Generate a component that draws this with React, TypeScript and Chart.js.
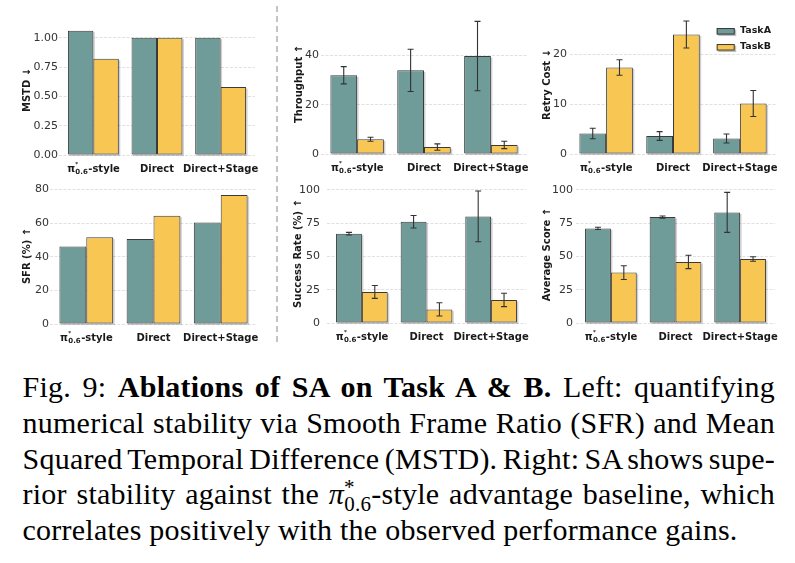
import React, { useEffect, useRef } from "react";
import { Chart, registerables } from "chart.js";

Chart.register(...registerables);

// ---------------- data ----------------
const CATEGORIES = ["π*0.6-style", "Direct", "Direct+Stage"];
const SERIES = ["TaskA", "TaskB"];

const MSTD_A = [1.06, 1.0, 1.0];
const MSTD_B = [0.82, 1.0, 0.58];

const THROUGHPUT_A = [32.0, 34.0, 39.8];
const THROUGHPUT_A_ERR = [3.5, 8.6, 14.1];
const THROUGHPUT_B = [6.0, 2.8, 3.7];
const THROUGHPUT_B_ERR = [0.8, 1.3, 1.5];

const RETRY_A = [4.1, 3.6, 3.1];
const RETRY_A_ERR = [1.05, 0.87, 0.9];
const RETRY_B = [17.3, 23.9, 10.1];
const RETRY_B_ERR = [1.55, 2.7, 2.6];

const SFR_A = [46.1, 50.6, 60.4];
const SFR_B = [51.6, 64.5, 76.8];

const SUCCESS_A = [67.0, 76.0, 80.0];
const SUCCESS_A_ERR = [1.0, 4.7, 19.0];
const SUCCESS_B = [23.3, 10.2, 17.3];
const SUCCESS_B_ERR = [4.8, 5.0, 5.0];

const SCORE_A = [71.0, 79.5, 83.0];
const SCORE_A_ERR = [0.8, 0.8, 15.0];
const SCORE_B = [37.8, 45.8, 48.0];
const SCORE_B_ERR = [5.2, 5.0, 1.7];

const MSTD_TICKS = [0, 0.25, 0.5, 0.75, 1.0];
const MSTD_TICK_LABELS = ["0.00", "0.25", "0.50", "0.75", "1.00"];
const THROUGHPUT_TICKS = [0, 20, 40];
const RETRY_TICKS = [0, 10, 20];
const SFR_TICKS = [0, 20, 40, 60, 80];
const PCT_TICKS = [0, 25, 50, 75, 100];

// ---------------- styles ----------------
const TEAL = "#6F9C99";
const YELLOW = "#F8C652";
const EDGE = "#3a3a3a";
const FONT = "'DejaVu Sans', sans-serif";

type Rect = { x0: number; y0: number; x1: number; y1: number };
type Plot = { L: number; R: number; T: number; B: number };
type Panel = {
  id: string;
  title: string;
  a: number[];
  b: number[];
  aErr?: number[];
  bErr?: number[];
  ticks: number[];
  tickLabels?: string[];
  yMax: number;
  canvas: Rect;
  plot: Plot;
  tickPad: number;
  titleX: number;
  legend?: boolean;
};

const PANELS: Panel[] = [
  {
    id: "mstd", title: "MSTD ↓", a: MSTD_A, b: MSTD_B,
    ticks: MSTD_TICKS, tickLabels: MSTD_TICK_LABELS, yMax: 1.108,
    canvas: { x0: 0, y0: 0, x1: 262, y1: 180 }, plot: { L: 59, R: 255, T: 25, B: 155 },
    tickPad: 1, titleX: 27.5,
  },
  {
    id: "thr", title: "Throughput ↑", a: THROUGHPUT_A, b: THROUGHPUT_B,
    aErr: THROUGHPUT_A_ERR, bErr: THROUGHPUT_B_ERR, ticks: THROUGHPUT_TICKS, yMax: 56.9,
    canvas: { x0: 282, y0: 0, x1: 529, y1: 180 }, plot: { L: 321, R: 527, T: 14, B: 154 },
    tickPad: 2, titleX: 299,
  },
  {
    id: "retry", title: "Retry Cost ↓", a: RETRY_A, b: RETRY_B,
    aErr: RETRY_A_ERR, bErr: RETRY_B_ERR, ticks: RETRY_TICKS, yMax: 27.8,
    canvas: { x0: 530, y0: 0, x1: 795, y1: 180 }, plot: { L: 570, R: 776, T: 15, B: 154 },
    tickPad: 3, titleX: 547.5, legend: true,
  },
  {
    id: "sfr", title: "SFR (%) ↑", a: SFR_A, b: SFR_B,
    ticks: SFR_TICKS, yMax: 80.95,
    canvas: { x0: 0, y0: 170, x1: 262, y1: 350 }, plot: { L: 50, R: 257, T: 188, B: 324 },
    tickPad: 1, titleX: 27,
  },
  {
    id: "succ", title: "Success Rate (%) ↑", a: SUCCESS_A, b: SUCCESS_B,
    aErr: SUCCESS_A_ERR, bErr: SUCCESS_B_ERR, ticks: PCT_TICKS, yMax: 104.3,
    canvas: { x0: 282, y0: 170, x1: 530, y1: 350 }, plot: { L: 327, R: 526, T: 184, B: 323 },
    tickPad: 7, titleX: 298,
  },
  {
    id: "score", title: "Average Score ↑", a: SCORE_A, b: SCORE_B,
    aErr: SCORE_A_ERR, bErr: SCORE_B_ERR, ticks: PCT_TICKS, yMax: 102.8,
    canvas: { x0: 530, y0: 170, x1: 795, y1: 350 }, plot: { L: 576, R: 775, T: 186, B: 323 },
    tickPad: 3, titleX: 547.5,
  },
];

// ---------------- plugins ----------------
const barShadow = {
  id: "barShadow",
  beforeDatasetsDraw(chart: any) {
    const { ctx } = chart;
    ctx.save();
    ctx.fillStyle = "rgba(0,0,0,0.18)";
    chart.data.datasets.forEach((_: any, di: number) => {
      const meta = chart.getDatasetMeta(di);
      meta.data.forEach((bar: any) => {
        const w = bar.width;
        ctx.fillRect(bar.x - w / 2 + 1.5, bar.y + 1.5, w, bar.base - bar.y);
      });
    });
    ctx.restore();
  },
};

const errorBars = {
  id: "errorBars",
  afterDatasetsDraw(chart: any) {
    const { ctx } = chart;
    const ys = chart.scales.y;
    chart.data.datasets.forEach((ds: any, di: number) => {
      const errs: number[] | undefined = ds.errors;
      if (!errs) return;
      const meta = chart.getDatasetMeta(di);
      meta.data.forEach((bar: any, i: number) => {
        const v = ds.data[i].y;
        const e = errs[i];
        const yt = ys.getPixelForValue(v + e);
        const yb = ys.getPixelForValue(v - e);
        const x = bar.x;
        ctx.save();
        ctx.strokeStyle = "#333";
        ctx.lineWidth = 1.1;
        ctx.beginPath();
        ctx.moveTo(x, yt);
        ctx.lineTo(x, yb);
        ctx.moveTo(x - 3, yt);
        ctx.lineTo(x + 3, yt);
        ctx.moveTo(x - 3, yb);
        ctx.lineTo(x + 3, yb);
        ctx.stroke();
        ctx.restore();
      });
    });
  },
};

const xLabels = {
  id: "xLabels",
  afterDraw(chart: any) {
    const { ctx, chartArea } = chart;
    const xs = chart.scales.x;
    const cats: string[] = chart.data.labels;
    ctx.save();
    ctx.fillStyle = "#1a1a1a";
    ctx.textBaseline = "alphabetic";
    ctx.textAlign = "left";
    const baseY = chartArea.bottom + 13 + 3.7;
    cats.forEach((lab, i) => {
      const cx = xs.getPixelForValue(i);
      const m = /^(π)\*([\d.]+)(.*)$/.exec(lab);
      if (m) {
        const main = "bold 10px " + FONT;
        const sup = "bold 5.5px " + FONT;
        const sub = "bold 7px " + FONT;
        ctx.font = main;
        const wPi = ctx.measureText(m[1]).width;
        const wRest = ctx.measureText(m[3]).width;
        ctx.font = sup;
        const wSup = ctx.measureText("*").width;
        ctx.font = sub;
        const wSub = ctx.measureText(m[2]).width;
        const wScript = Math.max(wSup, wSub) + 0.5;
        const total = wPi + wScript + wRest;
        let x = cx - total / 2;
        ctx.font = main;
        ctx.fillText(m[1], x, baseY);
        x += wPi + 0.3;
        ctx.font = sup;
        ctx.fillText("*", x, baseY - 5.5);
        ctx.font = sub;
        ctx.fillText(m[2], x, baseY + 2.5);
        x += wScript;
        ctx.font = main;
        ctx.fillText(m[3], x, baseY);
      } else {
        ctx.font = "bold 10px " + FONT;
        const w = ctx.measureText(lab).width;
        ctx.fillText(lab, cx - w / 2, baseY);
      }
    });
    ctx.restore();
  },
};

function legendPlugin(show: boolean) {
  return {
    id: "boxLegend",
    afterDraw(chart: any) {
      if (!show) return;
      const { ctx, chartArea } = chart;
      ctx.save();
      chart.data.datasets.forEach((ds: any, i: number) => {
        const cy = chartArea.top + 16.3 + 16 * i;
        const bx = chartArea.right - 59.3;
        const bw = 18;
        const bh = 6.5;
        ctx.fillStyle = "rgba(0,0,0,0.25)";
        ctx.fillRect(bx + 1.5, cy - bh / 2 + 1.5, bw, bh);
        ctx.fillStyle = ds.backgroundColor;
        ctx.fillRect(bx, cy - bh / 2, bw, bh);
        ctx.strokeStyle = EDGE;
        ctx.lineWidth = 1;
        ctx.strokeRect(bx + 0.5, cy - bh / 2 + 0.5, bw - 1, bh - 1);
        ctx.fillStyle = "#1a1a1a";
        ctx.font = "bold 9.5px " + FONT;
        ctx.textBaseline = "middle";
        ctx.textAlign = "left";
        ctx.fillText(ds.label, chartArea.right - 36, cy - 0.5);
      });
      ctx.restore();
    },
  };
}

function makeConfig(p: Panel): any {
  const AW = p.plot.L - p.canvas.x0;
  const PR = p.canvas.x1 - p.plot.R;
  const PT = p.plot.T - p.canvas.y0;
  const XH = p.canvas.y1 - p.plot.B;
  const mk = (label: string, vals: number[], errs: number[] | undefined, color: string) => ({
    label,
    data: vals.map((v, i) => ({ x: i, y: v })),
    errors: errs,
    backgroundColor: color,
    borderColor: EDGE,
    borderWidth: 1,
    borderSkipped: false,
    categoryPercentage: 0.8,
    barPercentage: 1.0,
  });
  return {
    type: "bar",
    data: {
      labels: CATEGORIES,
      datasets: [mk(SERIES[0], p.a, p.aErr, TEAL), mk(SERIES[1], p.b, p.bErr, YELLOW)],
    },
    options: {
      responsive: false,
      animation: false,
      devicePixelRatio: 1,
      layout: { padding: { top: PT, right: PR, bottom: 0, left: 0 } },
      plugins: { legend: { display: false }, tooltip: { enabled: false }, title: { display: false } },
      scales: {
        x: {
          type: "linear",
          min: -0.54,
          max: 2.54,
          offset: false,
          grid: { display: false },
          border: { display: false },
          ticks: { display: false },
          afterBuildTicks: (ax: any) => {
            ax.ticks = CATEGORIES.map((_, i) => ({ value: i }));
          },
          afterFit: (s: any) => {
            s.height = XH;
          },
        },
        y: {
          min: 0,
          max: p.yMax,
          afterBuildTicks: (ax: any) => {
            ax.ticks = p.ticks.map((v) => ({ value: v }));
          },
          ticks: {
            padding: p.tickPad,
            color: "#333",
            font: { family: FONT, size: 11 },
            callback: (v: number, i: number) => (p.tickLabels ? p.tickLabels[i] : String(v)),
          },
          grid: { color: "#dedede", lineWidth: 0.9, drawTicks: false },
          border: { display: false, dash: [3, 1.5] },
          title: {
            display: true,
            text: p.title,
            color: "#1a1a1a",
            font: { family: FONT, size: 10, weight: "bold" },
            padding: { top: p.titleX - p.canvas.x0 - 6, bottom: 0 },
          },
          afterFit: (s: any) => {
            s.width = AW;
          },
        },
      },
    },
    plugins: [barShadow, errorBars, xLabels, legendPlugin(!!p.legend)],
  };
}

function PanelChart({ p }: { p: Panel }) {
  const ref = useRef<HTMLCanvasElement>(null);
  useEffect(() => {
    const c = ref.current;
    if (!c) return;
    const chart = new Chart(c, makeConfig(p));
    return () => chart.destroy();
  }, [p]);
  const w = p.canvas.x1 - p.canvas.x0;
  const h = p.canvas.y1 - p.canvas.y0;
  return (
    <canvas
      ref={ref}
      width={w}
      height={h}
      style={{ position: "absolute", left: p.canvas.x0, top: p.canvas.y0, width: w, height: h }}
    />
  );
}

const lineStyle: React.CSSProperties = {
  textAlign: "justify",
  textAlignLast: "justify" as any,
  wordSpacing: "-4px",
  height: "35.75px",
};

export default function App() {
  return (
    <div
      style={{
        position: "fixed",
        left: 0,
        top: 0,
        width: 795,
        height: 563,
        background: "#fff",
        overflow: "hidden",
      }}
    >
      <div
        style={{
          position: "absolute",
          left: 276,
          top: 6,
          width: 1.5,
          height: 338,
          background: "repeating-linear-gradient(to bottom, #c4c4c4 0px, #c4c4c4 6px, transparent 6px, transparent 10px)",
        }}
      />
      {PANELS.map((p) => (
        <PanelChart key={p.id} p={p} />
      ))}
      <div
        style={{
          position: "absolute",
          left: 22.5,
          top: 369,
          width: 752.5,
          fontFamily: "'Liberation Serif', 'Times New Roman', serif",
          fontSize: "30px",
          letterSpacing: "0.25px",
          lineHeight: "35.75px",
          color: "#000",
        }}
      >
        <div style={lineStyle}>
          Fig. 9: <b>Ablations of SA on Task A &amp; B.</b> Left: quantifying
        </div>
        <div style={lineStyle}>numerical stability via Smooth Frame Ratio (SFR) and Mean</div>
        <div style={lineStyle}>Squared Temporal Difference (MSTD). Right: SA shows supe-</div>
        <div style={lineStyle}>
          rior stability against the <span style={{ fontStyle: "italic" }}>π</span>
          <span style={{ fontSize: "0.7em" }}>
            <span style={{ position: "relative", top: "-0.5em" }}>*</span>
            <span style={{ position: "relative", top: "0.33em", marginLeft: "-0.5em" }}>0.6</span>
          </span>
          -style advantage baseline, which
        </div>
        <div style={{ height: "35.75px" }}>correlates positively with the observed performance gains.</div>
      </div>
    </div>
  );
}
